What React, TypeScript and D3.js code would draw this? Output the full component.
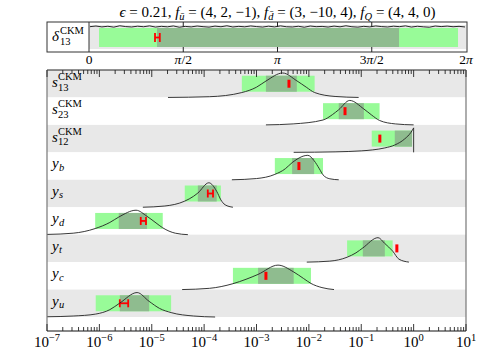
import { useMemo } from 'react';
import * as d3 from 'd3';

// rows of the main panel, top to bottom
const rowBase = ['s', 's', 's', 'y', 'y', 'y', 'y', 'y', 'y'];
const rowSub = ['13', '23', '12', 'b', 's', 'd', 't', 'c', 'u'];
const rowSup = ['CKM', 'CKM', 'CKM', '', '', '', '', '', ''];

// log10 ranges
const lightLog: [number, number][] = [
  [-3.28, -1.89], [-1.73, -0.65], [-0.8, -0.03], [-2.65, -1.73], [-4.37, -3.68],
  [-6.08, -4.79], [-1.27, -0.4], [-3.45, -1.96], [-6.07, -4.63],
];
const darkLog: [number, number][] = [
  [-2.82, -2.23], [-1.43, -0.95], [-0.36, -0.03], [-2.32, -1.9], [-4.12, -3.76],
  [-5.63, -5.09], [-0.97, -0.55], [-2.97, -2.29], [-5.61, -5.05],
];
const bestLog: [number, number][] = [
  [-2.39, -2.37], [-1.32, -1.3], [-0.65, -0.64], [-2.2, -2.18], [-3.93, -3.83],
  [-5.21, -5.11], [-0.33, -0.31], [-2.83, -2.81], [-5.61, -5.45],
];

// density curves: [log10 value, height relative to peak]
const curves: [number, number][][] = [
  [[-4.69, 0], [-3.9, 0.03], [-3.28, 0.2], [-3.0, 0.42], [-2.82, 0.67], [-2.5, 1], [-2.23, 0.68], [-2.05, 0.42], [-1.89, 0.2], [-1.5, 0.04], [-1.05, 0]],
  [[-2.82, 0], [-2.3, 0.04], [-1.73, 0.2], [-1.55, 0.42], [-1.43, 0.62], [-1.22, 1], [-0.95, 0.65], [-0.8, 0.4], [-0.65, 0.18], [-0.35, 0.04], [0, 0]],
  [[-2.29, 0], [-1.5, 0.02], [-1.0, 0.06], [-0.78, 0.1], [-0.55, 0.18], [-0.36, 0.3], [-0.17, 0.55], [-0.05, 0.82], [0, 1]],
  [[-3.47, 0], [-3.0, 0.05], [-2.65, 0.22], [-2.45, 0.45], [-2.32, 0.7], [-2.02, 1], [-1.9, 0.78], [-1.8, 0.45], [-1.73, 0.2], [-1.6, 0.04], [-1.43, 0]],
  [[-5.17, 0], [-4.75, 0.05], [-4.37, 0.25], [-4.2, 0.45], [-4.12, 0.58], [-3.91, 1], [-3.76, 0.65], [-3.68, 0.3], [-3.6, 0.1], [-3.45, 0]],
  [[-7, 0.01], [-6.5, 0.06], [-6.08, 0.25], [-5.8, 0.5], [-5.63, 0.72], [-5.3, 1], [-5.09, 0.75], [-4.9, 0.45], [-4.79, 0.28], [-4.55, 0.06], [-4.31, 0]],
  [[-2.04, 0], [-1.6, 0.04], [-1.27, 0.2], [-1.1, 0.38], [-0.97, 0.58], [-0.68, 1], [-0.55, 0.76], [-0.4, 0.45], [-0.28, 0.12], [-0.09, 0]],
  [[-4.42, 0], [-3.9, 0.05], [-3.45, 0.24], [-3.2, 0.42], [-2.97, 0.62], [-2.59, 1], [-2.29, 0.72], [-2.1, 0.45], [-1.96, 0.25], [-1.75, 0.08], [-1.52, 0]],
  [[-7, 0.01], [-6.5, 0.04], [-6.07, 0.12], [-5.8, 0.3], [-5.61, 0.57], [-5.28, 1], [-5.05, 0.64], [-4.85, 0.35], [-4.63, 0.18], [-4.2, 0.04], [-3.79, 0]],
];

const decades = [-7, -6, -5, -4, -3, -2, -1, 0, 1];

// delta_13 panel (radians)
const deltaLight: [number, number] = [0.167, 6.15];
const deltaDark: [number, number] = [1.133, 5.167];
const deltaBest: [number, number] = [1.1, 1.18];
const deltaTicks = [0, Math.PI / 2, Math.PI, (3 * Math.PI) / 2, 2 * Math.PI];
const deltaTickLabels = ['0', 'π/2', 'π', '3π/2', '2π'];
// flat posterior, jitter of the histogram top (px)
const deltaNoise = [
  0.2, -0.6, 0.5, -0.3, 0.8, -0.9, 0.1, 0.6, -0.4, 0.3, -0.8, 0.7, -0.2, 0.4, -0.7, 0.9,
  -0.1, 0.5, -0.6, 0.2, 0.8, -0.5, 0.3, -0.9, 0.6, -0.2, 0.4, -0.7, 0.1, 0.7, -0.4, 0.5,
  -0.8, 0.3, 0.6, -0.3, 0.9, -0.6, 0.2, -0.1, 0.7, -0.5, 0.4, -0.9, 0.3, 0.8, -0.2, 0.5,
  -0.7, 0.1, 0.6, -0.4, 0.2, -0.8, 0.7, -0.3, 0.4, 0.9, -0.6, 0.1, -0.5, 0.3, -0.2, 0.6,
];

const FONT = '"Liberation Serif", "DejaVu Serif", serif';
const LIGHT = '#98fb98';
const DARK = '#8fbc8f';
const BAND = '#e8e8e8';

const left = 47;
const right = 466;
const mainTop = 70;
const mainBottom = 317;
const axisY = 331;
const dTop = 22;
const dBottom = 52;
const dLeft = 89;

export default function App() {
  const x = useMemo(() => d3.scaleLog().domain([1e-7, 1e1]).range([left, right]), []);
  const y = useMemo(
    () => d3.scaleBand<number>().domain(d3.range(rowBase.length)).range([mainTop, mainBottom]),
    [],
  );
  const xd = useMemo(() => d3.scaleLinear().domain([0, 2 * Math.PI]).range([dLeft, right]), []);
  const bw = y.bandwidth();
  const px = (e: number) => x(Math.pow(10, e));

  const minors: number[] = [];
  decades.slice(0, -1).forEach((d) => {
    for (let k = 2; k <= 9; k++) minors.push(k * Math.pow(10, d));
  });

  const noiseX = d3.scaleLinear().domain([0, deltaNoise.length - 1]).range([dLeft + 1, right - 1]);
  const noisePath =
    d3
      .line<number>()
      .x((_, i) => noiseX(i))
      .y((v) => 26.5 + v * 0.8)(deltaNoise) ?? '';

  return (
    <svg
      width={481}
      height={351}
      viewBox="0 0 481 351"
      style={{ position: 'absolute', left: 0, top: 0, background: '#fff' }}
      fontFamily={FONT}
    >
      {/* title */}
      <text x={277.5} y={17} textAnchor="middle" fontSize={15}>
        <tspan fontStyle="italic">ϵ</tspan>
        <tspan> = 0.21, </tspan>
        <tspan fontStyle="italic">f</tspan>
        <tspan fontSize={10.5} dy={3} fontStyle="italic">{'u\u0304'}</tspan>
        <tspan dy={-3}> = (4, 2, −1), </tspan>
        <tspan fontStyle="italic">f</tspan>
        <tspan fontSize={10.5} dy={3} fontStyle="italic">{'d\u0304'}</tspan>
        <tspan dy={-3}> = (3, −10, 4), </tspan>
        <tspan fontStyle="italic">f</tspan>
        <tspan fontSize={10.5} dy={3} fontStyle="italic">Q</tspan>
        <tspan dy={-3}> = (4, 4, 0)</tspan>
      </text>

      {/* delta panel */}
      <rect x={dLeft} y={dTop + 3} width={right - dLeft} height={dBottom - dTop - 6} fill={BAND} />
      <rect x={xd(deltaLight[0])} y={28} width={xd(deltaLight[1]) - xd(deltaLight[0])} height={19} fill={LIGHT} />
      <rect x={xd(deltaDark[0])} y={28} width={xd(deltaDark[1]) - xd(deltaDark[0])} height={19} fill={DARK} />
      <path d={noisePath} fill="none" stroke="#111" strokeWidth={0.9} />
      <g stroke="red" strokeWidth={1.8}>
        <line x1={xd(deltaBest[0])} x2={xd(deltaBest[0])} y1={33} y2={42} />
        <line x1={xd(deltaBest[1])} x2={xd(deltaBest[1])} y1={33} y2={42} />
        <line x1={xd(deltaBest[0])} x2={xd(deltaBest[1])} y1={37.5} y2={37.5} />
      </g>
      <rect x={left} y={dTop} width={right + 1 - left} height={dBottom - dTop} fill="none" stroke="#333" />
      <line x1={dLeft} x2={dLeft} y1={dTop} y2={dBottom} stroke="#333" />
      {deltaTicks.map((t, i) => (
        <g key={i}>
          {i > 0 && i < deltaTicks.length - 1 && (
            <>
              <line x1={xd(t)} x2={xd(t)} y1={dTop} y2={dTop + 5} stroke="#222" />
              <line x1={xd(t)} x2={xd(t)} y1={dBottom} y2={dBottom - 5} stroke="#222" />
            </>
          )}
          <text x={xd(t)} y={64} textAnchor="middle" fontSize={13.5}>
            {deltaTickLabels[i].split('').map((c, j) => (
              <tspan key={j} fontStyle={c === 'π' ? 'italic' : 'normal'}>
                {c}
              </tspan>
            ))}
          </text>
        </g>
      ))}
      <text x={52} y={41} fontSize={15} fontStyle="italic">δ</text>
      <text x={60} y={34} fontSize={10.5}>CKM</text>
      <text x={60} y={45} fontSize={10.5}>13</text>

      {/* main panel bands */}
      {rowBase.map((_, i) => (
        <rect key={i} x={left} y={y(i)} width={right - left} height={bw} fill={i % 2 === 0 ? BAND : '#fff'} />
      ))}

      {rowBase.map((base, i) => {
        const top = y(i) ?? 0;
        const baseLine = top + bw;
        const peakH = bw - 3;
        const pts = curves[i];
        const line = d3
          .line<[number, number]>()
          .x((p) => px(p[0]))
          .y((p) => baseLine - p[1] * peakH)
          .curve(d3.curveMonotoneX);
        let d = line(pts) ?? '';
        const last = pts[pts.length - 1];
        if (last[1] > 0) d += `L${px(last[0])},${baseLine}`;
        const cy = top + bw / 2;
        const [b0, b1] = bestLog[i];
        const wide = px(b1) - px(b0) > 4;
        return (
          <g key={i}>
            <rect x={px(lightLog[i][0])} y={cy - 8} width={px(lightLog[i][1]) - px(lightLog[i][0])} height={16} fill={LIGHT} />
            <rect x={px(darkLog[i][0])} y={cy - 8} width={px(darkLog[i][1]) - px(darkLog[i][0])} height={16} fill={DARK} />
            {wide ? (
              <g stroke="red" strokeWidth={1.8}>
                <line x1={px(b0)} x2={px(b0)} y1={cy - 4} y2={cy + 4} />
                <line x1={px(b1)} x2={px(b1)} y1={cy - 4} y2={cy + 4} />
                <line x1={px(b0)} x2={px(b1)} y1={cy} y2={cy} />
              </g>
            ) : (
              <rect x={(px(b0) + px(b1)) / 2 - 1.5} y={cy - 4} width={3} height={8} fill="red" />
            )}
            <path d={d} fill="none" stroke="#222" strokeWidth={0.9} />
            <text x={52} y={top + (rowSup[i] ? 17 : 16)} fontSize={15} fontStyle="italic">
              {base}
            </text>
            {rowSup[i] && (
              <text x={58} y={top + 10} fontSize={10.5}>
                {rowSup[i]}
              </text>
            )}
            <text
              x={rowSup[i] ? 58 : 59}
              y={top + (rowSup[i] ? 20.5 : 18.5)}
              fontSize={10.5}
              fontStyle={rowSup[i] ? 'normal' : 'italic'}
            >
              {rowSub[i]}
            </text>
          </g>
        );
      })}

      {/* frame and log axes */}
      <line x1={left} x2={right} y1={mainTop} y2={mainTop} stroke="#222" />
      <line x1={left} x2={left} y1={mainTop} y2={axisY} stroke="#777" strokeWidth={1.2} />
      <line x1={right} x2={right} y1={mainTop} y2={axisY} stroke="#777" strokeWidth={1.2} />
      <line x1={left} x2={right} y1={axisY} y2={axisY} stroke="#111" />
      <g stroke="#222" strokeWidth={0.9}>
        {decades.map((e) => (
          <g key={e}>
            <line x1={px(e)} x2={px(e)} y1={mainTop} y2={mainTop + 7} />
            <line x1={px(e)} x2={px(e)} y1={axisY} y2={axisY - 7} />
          </g>
        ))}
        {minors.map((v, i) => (
          <g key={i}>
            <line x1={x(v)} x2={x(v)} y1={mainTop} y2={mainTop + 4} />
            <line x1={x(v)} x2={x(v)} y1={axisY} y2={axisY - 4} />
          </g>
        ))}
      </g>
      {decades.map((e) => (
        <text key={e} x={px(e)} y={347} textAnchor="middle" fontSize={15}>
          <tspan>10</tspan>
          <tspan dy={-6} fontSize={10.5}>
            {e < 0 ? `−${-e}` : `${e}`}
          </tspan>
        </text>
      ))}
    </svg>
  );
}
